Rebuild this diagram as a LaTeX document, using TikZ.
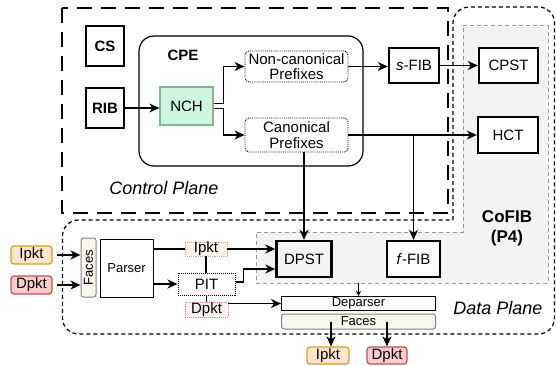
\documentclass[tikz,border=0pt]{standalone}
\usepackage{fontspec}
\setmainfont{Liberation Sans}
\usetikzlibrary{arrows.meta}

\definecolor{nchfill}{RGB}{204,246,224}
\definecolor{nchline}{RGB}{130,180,150}
\definecolor{ifill}{RGB}{255,230,204}
\definecolor{iline}{RGB}{215,160,30}
\definecolor{dfill}{RGB}{248,206,204}
\definecolor{dline}{RGB}{184,84,80}
\definecolor{facefill}{RGB}{249,247,237}
\definecolor{faceline}{RGB}{130,130,130}
\definecolor{pfourfill}{RGB}{243,243,243}
\definecolor{pfourline}{RGB}{150,150,150}
\definecolor{ilabfill}{RGB}{253,243,232}
\definecolor{ilabline}{RGB}{190,170,150}
\definecolor{dlabfill}{RGB}{253,241,241}
\definecolor{dlabline}{RGB}{230,130,130}

\tikzset{
  txt/.style={font=\fontsize{15}{17}\selectfont},
  smalltxt/.style={font=\fontsize{13}{15}\selectfont},
  planetxt/.style={font=\fontsize{18}{20}\selectfont\itshape},
  box/.style={txt, inner sep=0pt, align=center, minimum width=#1},
  heavybox/.style={box=#1, draw, line width=2.4pt, fill=white},
  dotbox/.style={box=#1, draw, densely dotted, line width=0.9pt, fill=white},
  pktin/.style={box=#1, draw=iline, fill=ifill, line width=1.2pt, rounded corners=3pt},
  pktdn/.style={box=#1, draw=dline, fill=dfill, line width=1.2pt, rounded corners=3pt},
  facebox/.style={smalltxt, inner sep=0pt, draw=faceline, fill=facefill, line width=1pt, rounded corners=2.5pt},
  arr/.style={line width=1.3pt, -{Stealth[length=10pt,width=9pt,inset=3pt]}},
  smallarr/.style={line width=0.9pt, -{Stealth[length=5pt,width=5pt,inset=1.5pt]}},
  link/.style={line width=1.3pt},
  cpborder/.style={line width=1.3pt, dash pattern=on 15pt off 9pt},
  dpborder/.style={line width=1.2pt, dash pattern=on 4pt off 3pt},
  pfourregion/.style={fill=pfourfill, draw=pfourline, line width=1pt, dash pattern=on 4pt off 3pt},
}

\begin{document}
\begin{tikzpicture}[x=1pt,y=-1pt]
\useasboundingbox (0,0) rectangle (556,366);

% P4 target region (shaded)
\filldraw[pfourregion] (463,26) -- (548,26) -- (548,283) -- (256,283) -- (256,232) -- (463,232) -- cycle;

% control plane frame
\draw[cpborder] (62,8) rectangle (448,213);

% data plane frame, merged with the CoFIB column
\draw[dpborder] (453,220) [rounded corners=16pt] -- (453,7) -- (554.5,7) -- (554.5,334) -- (62.5,334) -- (62.5,220) -- (453,220);

% CPE container
\draw[line width=1.2pt, rounded corners=15pt] (139,36) rectangle (363,166);
\node[txt, font=\fontsize{15}{17}\selectfont\bfseries] (cpelabel) at (183,55) {CPE};

% control plane nodes
\node[heavybox=38pt, minimum height=40pt, font=\fontsize{15}{17}\selectfont\bfseries] (cs) at (105,46) {CS};
\node[heavybox=38pt, minimum height=40pt, font=\fontsize{15}{17}\selectfont\bfseries] (rib) at (105,108) {RIB};
\node[box=53pt, minimum height=38pt, draw=nchline, fill=nchfill, line width=1.2pt] (nch) at (186.5,106) {NCH};
\node[dotbox=103pt, minimum height=31pt, rounded corners=4pt, font=\fontsize{15}{15.5}\selectfont] (noncan) at (296.5,66.5) {Non-canonical\\Prefixes};
\node[dotbox=103pt, minimum height=34pt, rounded corners=4pt, font=\fontsize{15}{15.5}\selectfont] (canon) at (296.5,135) {Canonical\\Prefixes};
\node[heavybox=50pt, minimum height=35pt] (sfib) at (414,65.5) {\textit{s}-FIB};
\node[heavybox=59pt, minimum height=35pt] (cpst) at (508.5,65.5) {CPST};
\node[heavybox=60pt, minimum height=36pt] (hct) at (508,135) {HCT};
\node[planetxt] (cplabel) at (164,188) {Control Plane};

% CoFIB label and data plane tables
\node[font=\fontsize{17}{20}\selectfont\bfseries, align=center] (cofib) at (507,228) {CoFIB\\(P4)};
\node[heavybox=55pt, minimum height=36pt, fill=pfourfill] (dpst) at (304,259) {DPST};
\node[heavybox=53pt, minimum height=36pt] (ffib) at (413.5,259) {\textit{f}-FIB};

% control plane connectors
\draw[arr] (rib.east) -- (rib.east -| nch.west);
\draw[arr] ([yshift=2.5pt]nch.east) -- ++(10,0) |- (noncan.west);
\draw[arr] ([yshift=-2.5pt]nch.east) -- ++(10,0) |- (canon.west);
\draw[arr] (noncan.east) -- (noncan.east -| sfib.west);
\draw[arr] (sfib.east) -- (sfib.east -| cpst.west);
\draw[arr] (canon.east) -- (canon.east -| hct.west);
\draw[arr] (canon.south -| dpst.north) -- (dpst.north);
\draw[arr] (canon.east -| ffib.north) -- (ffib.north);

% data plane pipeline
\node[pktin=41pt, minimum height=18pt] (ipkin) at (31.5,255) {Ipkt};
\node[pktdn=41pt, minimum height=18pt] (dpkin) at (31.5,285) {Dpkt};
\node[facebox, minimum width=59pt, minimum height=15pt, rotate=90] (facesin) at (88.5,267.5) {Faces};
\node[smalltxt, draw, line width=1pt, minimum width=53pt, minimum height=58pt, inner sep=0pt] (parser) at (126.5,268) {Parser};
\node[dotbox=57pt, minimum height=22pt, line width=1pt] (pit) at (206.5,284) {PIT};
\node[smalltxt, draw, line width=1pt, fill=white, minimum width=154pt, minimum height=14pt, inner sep=0pt] (deparser) at (358.5,303.5) {Deparser};
\node[facebox, minimum width=154pt, minimum height=15pt] (facesout) at (358.5,321.5) {Faces};
\node[pktin=42pt, minimum height=17pt] (ipkout) at (328,355.5) {Ipkt};
\node[pktdn=40pt, minimum height=17pt] (dpkout) at (387,355.5) {Dpkt};
\node[planetxt] (dplabel) at (498,308) {Data Plane};

\draw[arr, shorten <=4pt] (ipkin.east) -- (ipkin.east -| facesin.north);
\draw[arr, shorten <=4pt] (dpkin.east) -- (dpkin.east -| facesin.north);
\draw[arr] (parser.east |- pit.west) -- (pit.west);

% packet-type tags on the parser outputs
\node[box=42pt, minimum height=14pt, draw=ilabline, fill=ilabfill, densely dotted, line width=0.9pt] (ipkmid) at (206,249) {Ipkt};
\node[box=43pt, minimum height=15pt, draw=dlabline, fill=dlabfill, densely dotted, line width=0.9pt] (dpkmid) at (206.5,309.5) {Dpkt};

\draw[link] (parser.east |- ipkmid.west) -- (ipkmid.west);
\draw[arr] (ipkmid.east) -- (ipkmid.east -| dpst.west);
\draw[link] (ipkmid.south) -- (ipkmid.south |- pit.north);
\draw[link] (pit.south -| dpkmid.north) -- (dpkmid.north);
\draw[arr] ([yshift=2pt]pit.east) -- ++(8,0) |- ([yshift=-10pt]dpst.west);
\draw[arr] (dpkmid.east |- deparser.west) -- (deparser.west);

\coordinate (pfourbottom) at (358.5,283);
\draw[smallarr] (pfourbottom) -- (pfourbottom |- deparser.north);
\draw[arr] ([xshift=3pt]ipkout.north |- facesout.center) -- ([xshift=3pt]ipkout.north);
\draw[arr] (dpkout.north |- facesout.center) -- (dpkout.north);
\end{tikzpicture}
\end{document}
